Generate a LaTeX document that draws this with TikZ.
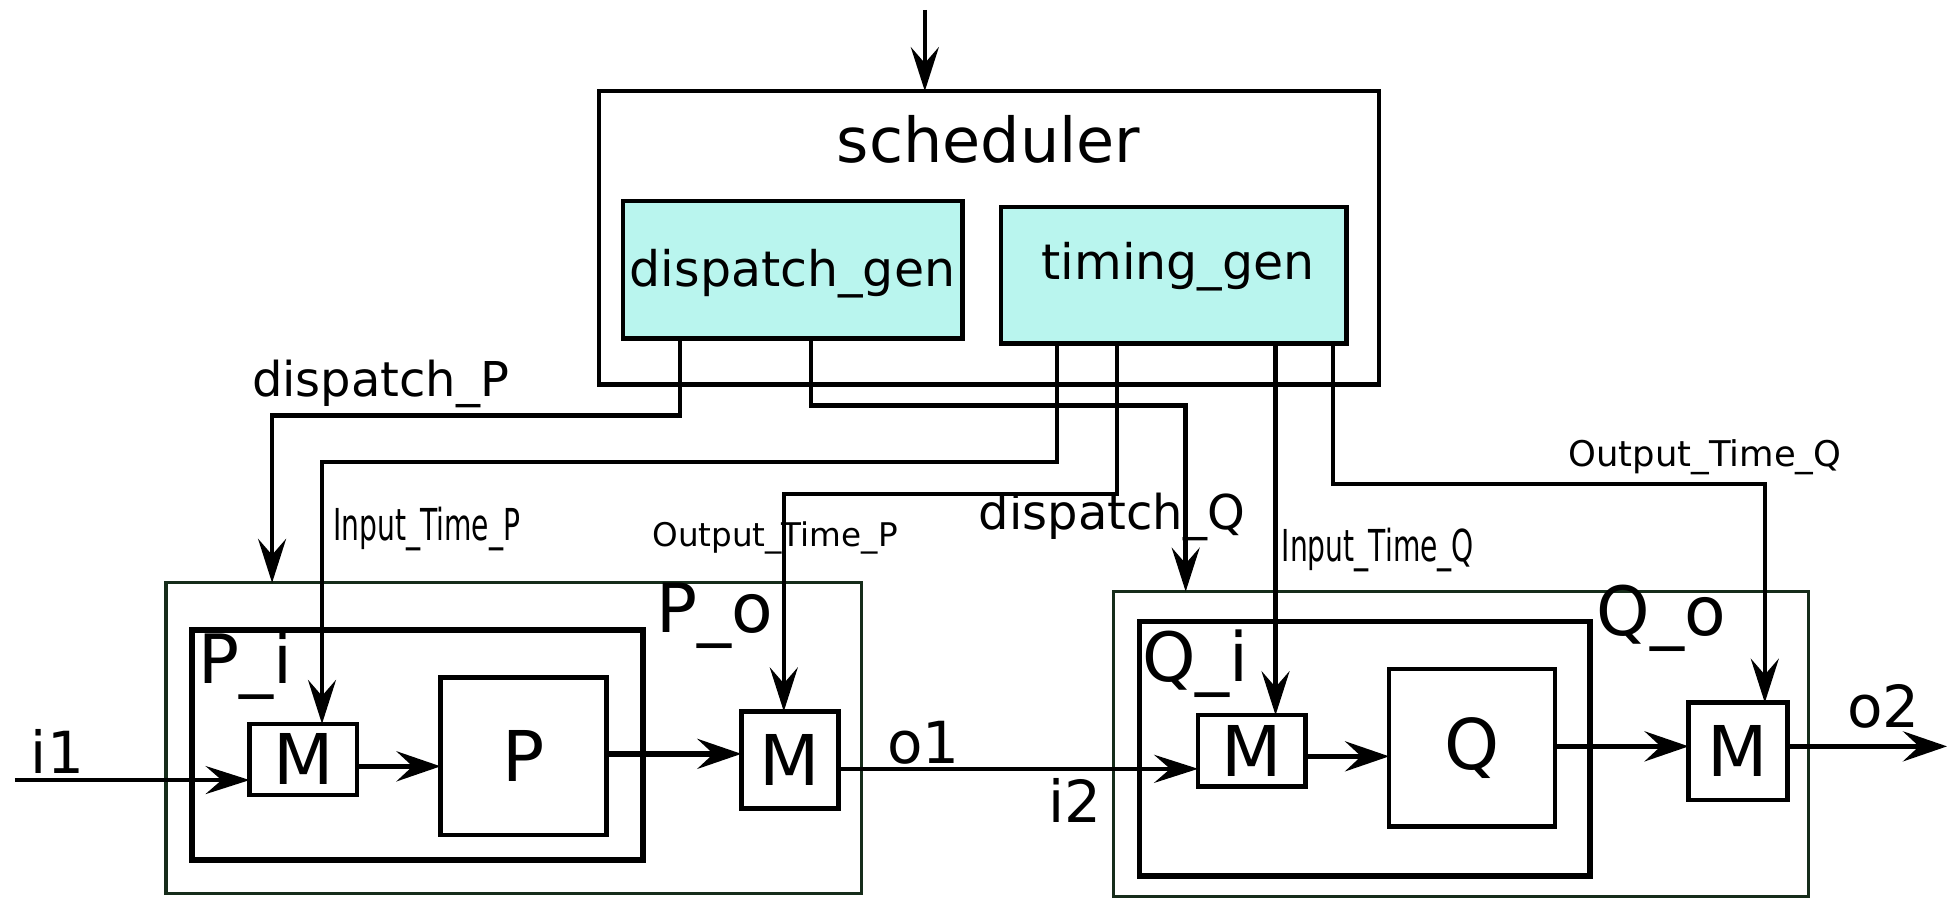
\documentclass[tikz,border=0pt]{standalone}
\usepackage{fontspec}
\setmainfont{DejaVu Sans}
\newfontfamily\condfont[FakeStretch=0.64]{DejaVu Sans}
\usetikzlibrary{arrows.meta,fit}
\definecolor{gencyan}{RGB}{185,245,238}
\definecolor{darkgreen}{RGB}{22,44,26}
\begin{document}
\begin{tikzpicture}[x=0.624pt,y=-0.624pt,
  box/.style={draw, line width=2.3pt, inner sep=0pt, outer sep=0pt},
  inbox/.style={draw, line width=2.8pt, inner sep=0pt, outer sep=0pt},
  outerbox/.style={draw=darkgreen, line width=1.6pt, inner sep=0pt, outer sep=0pt},
  gen/.style={box, fill=gencyan},
  gentext/.style={font=\fontsize{24.5}{28}\selectfont, inner sep=0pt},
  mtext/.style={font=\fontsize{35}{40}\selectfont, inner sep=0pt},
  arr/.style={line width=2.2pt, -{Stealth[length=22pt,width=14pt,inset=8pt]}},
  darr/.style={line width=2.7pt, -{Stealth[length=22pt,width=15pt,inset=8pt]}},
  biglbl/.style={font=\fontsize{34}{38}\selectfont, inner sep=0pt},
  iolbl/.style={font=\fontsize{29}{33}\selectfont, inner sep=0pt},
  siglbl/.style={font=\fontsize{24}{28}\selectfont, inner sep=0pt},
  condlbl/.style={font=\condfont\fontsize{22}{26}\selectfont, inner sep=0pt},
  outlbl/.style={inner sep=0pt}]
\useasboundingbox[fill=white] (0,0) rectangle (1568,720);

% scheduler
\node[box,fit={(480,73) (1105,308)}] (sched) {};
\node[font=\fontsize{31}{36}\selectfont, inner sep=0pt] (schedlbl) at (792,112) {scheduler};
\node[gen,fit={(499,161) (771,271)}] (dgen) {};
\node[gentext] (dgenlbl) at (635,219) {dispatch\_gen};
\node[gen,fit={(802,166) (1079,275)}] (tgen) {};
\node[gentext] (tgenlbl) at (944,214) {timing\_gen};

% P side
\node[outerbox,fit={(133,467) (690,716)}] (Pout) {};
\node[inbox,fit={(154,505) (515,689)}] (Pi) {};
\node[box,fit={(200,580) (286,637)}, label={[mtext]center:M}] (Mpi) {};
\node[box,fit={(353,543) (486,669)}, label={[mtext]center:P}] (Pb) {};
\node[box,fit={(594,570) (672,648)}, label={[mtext]center:M}] (Mpo) {};
\node[biglbl] (Pilbl) at (197,533) {P\_i};
\node[biglbl] (Polbl) at (573,493) {P\_o};

% Q side
\node[outerbox,fit={(892,474) (1449,718)}] (Qout) {};
\node[inbox,fit={(913,498) (1274,702)}] (Qi) {};
\node[box,fit={(960,573) (1046,630)}, label={[mtext]center:M}] (Mqi) {};
\node[box,fit={(1113,536) (1246,662)}, label={[mtext]center:Q}] (Qb) {};
\node[box,fit={(1353,563) (1432,641)}, label={[mtext]center:M}] (Mqo) {};
\node[biglbl] (Qilbl) at (958,532) {Q\_i};
\node[biglbl] (Qolbl) at (1331,495) {Q\_o};

% top input
\coordinate (topin) at (741,8);
\draw[arr] (topin) -- (topin |- sched.north);

% scheduler outputs
\draw[arr] (dgen.south -| 545,0) |- (218,333) -- (Pout.north -| 218,0);
\draw[arr] (dgen.south -| 650,0) |- (950,325) -- (Qout.north -| 950,0);
\draw[arr] (tgen.south -| 847,0) |- (258,370) -- (Mpi.north -| 258,0);
\draw[arr] (tgen.south -| 895,0) |- (628,396) -- (Mpo.north -| 628,0);
\draw[arr] (tgen.south -| 1022,0) -- (Mqi.north -| 1022,0);
\draw[arr] (tgen.south -| 1068,0) |- (1414,388) -- (Mqo.north -| 1414,0);

\node[siglbl] (dPlbl) at (305,308) {dispatch\_P};
\node[siglbl] (dQlbl) at (891,414) {dispatch\_Q};
\node[condlbl] (iTPlbl) at (342,424) {Input\_Time\_P};
\node[condlbl] (iTQlbl) at (1104,441) {Input\_Time\_Q};
\node[outlbl, font=\fontsize{16.3}{20}\selectfont] (oTPlbl) at (621,431) {Output\_Time\_P};
\node[outlbl, font=\fontsize{17.7}{21}\selectfont] (oTQlbl) at (1366,366) {Output\_Time\_Q};

% data path
\coordinate (i1in) at (12,625);
\draw[arr] (i1in) -- (i1in -| Mpi.west);
\draw[darr] (Mpi.east |- 0,614) -- (Pb.west |- 0,614);
\draw[darr] (Pb.east |- 0,604) -- (Mpo.west |- 0,604);
\draw[arr] (Mpo.east |- 0,616) -- (Mqi.west |- 0,616);
\draw[darr] (Mqi.east |- 0,606) -- (Qb.west |- 0,606);
\draw[darr] (Qb.east |- 0,598) -- (Mqo.west |- 0,598);
\coordinate (o2out) at (1560,598);
\draw[darr] (Mqo.east |- o2out) -- (o2out);

\node[iolbl] (i1lbl) at (46,602) {i1};
\node[iolbl] (o1lbl) at (740,595) {o1};
\node[iolbl] (i2lbl) at (861,641) {i2};
\node[iolbl] (o2lbl) at (1509,566) {o2};
\end{tikzpicture}
\end{document}
